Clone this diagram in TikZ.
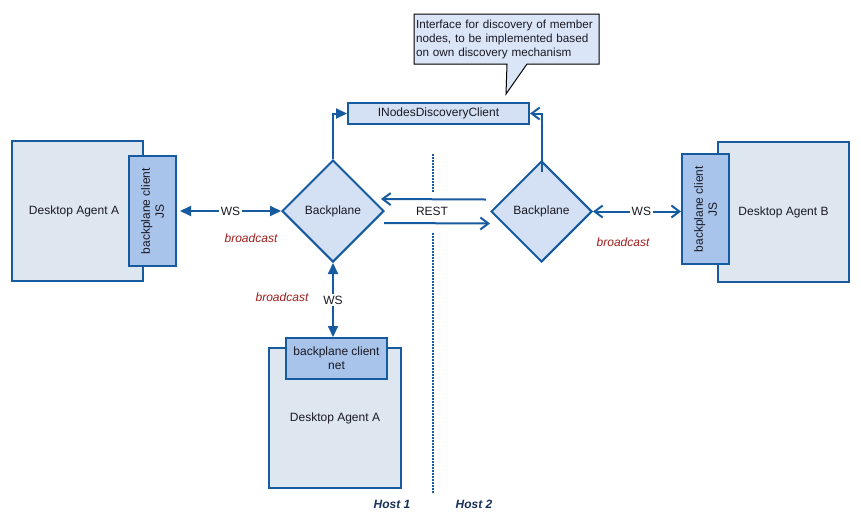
\documentclass[tikz,border=0pt]{standalone}
\usepackage{fontspec}
\setmainfont{Liberation Sans}
\usetikzlibrary{shapes.geometric,arrows.meta,calc}
\definecolor{bord}{RGB}{22,90,160}
\definecolor{agentfill}{RGB}{222,230,240}
\definecolor{clientfill}{RGB}{169,196,235}
\definecolor{dfill}{RGB}{212,225,245}
\definecolor{callfill}{RGB}{218,229,247}
\definecolor{bcast}{RGB}{160,30,30}
\definecolor{hostc}{RGB}{25,50,90}
\definecolor{txt}{RGB}{25,25,35}
\begin{document}
\begin{tikzpicture}[x=1pt,y=-1pt,
  lbl/.style={font=\fontsize{12}{14}\selectfont, text=txt},
  agent/.style={draw=bord, line width=2pt, fill=agentfill, inner sep=0pt, lbl},
  client/.style={draw=bord, line width=2pt, fill=clientfill, inner sep=0pt},
  bp/.style={diamond, draw=bord, line width=2pt, fill=dfill, inner sep=0pt, minimum width=102pt, minimum height=102pt, lbl},
  ifbox/.style={draw=bord, line width=2pt, fill=dfill, inner sep=0pt, minimum width=181pt, minimum height=21pt, lbl},
  conn/.style={draw=bord, line width=2pt},
  fullhead/.style={conn, {Triangle[length=11pt,width=10pt]}-{Triangle[length=11pt,width=10pt]}},
  fullend/.style={conn, -{Triangle[length=11pt,width=10pt]}},
  openhead/.style={conn, {Straight Barb[length=8pt,width=12pt]}-{Straight Barb[length=8pt,width=12pt]}},
  openend/.style={conn, -{Straight Barb[length=8pt,width=12pt]}},
  wslbl/.style={lbl, fill=white, inner sep=2pt},
  bclbl/.style={font=\fontsize{12}{14}\selectfont\itshape, text=bcast},
  hostlbl/.style={font=\fontsize{12}{14}\selectfont\bfseries\itshape, text=hostc},
  hostsep/.style={draw=bord, line width=2pt, dash pattern=on 1.5pt off 1.5pt},
  calltxt/.style={lbl, font=\fontsize{11.7}{14}\selectfont, align=left, text width=183pt, inner sep=0pt}
]
\useasboundingbox (0,0) rectangle (861,523);
\fill[white] (0,0) rectangle (861,523);

% left agent
\node[agent, minimum width=131pt, minimum height=140pt] (agA) at (77.5,211) {Desktop Agent A\hspace*{7pt}};
\node[client, minimum width=47pt, minimum height=110pt] (cjsA) at (152.5,211) {};
\node[lbl, rotate=90, align=center, inner sep=0pt] (cjsAt) at (cjsA.center) {backplane client\\JS};

% right agent
\node[agent, minimum width=131pt, minimum height=140pt] (agB) at (783.5,212) {Desktop Agent B};
\node[client, minimum width=47pt, minimum height=110pt] (cjsB) at (705.5,209) {};
\node[lbl, rotate=90, align=center, inner sep=0pt] (cjsBt) at (cjsB.center) {backplane client\\JS};

% bottom agent
\node[agent, minimum width=132pt, minimum height=140pt] (agC) at (335,418) {\raisebox{-3pt}{Desktop Agent A}};
\node[client, minimum width=101pt, minimum height=41pt, lbl, align=center] (cnet) at (336.5,358.5) {backplane client\\net};

% backplanes
\node[bp] (bpL) at (333,211) {Backplane};
\node[bp, minimum width=101pt, minimum height=101pt] (bpR) at (541.5,211.5) {Backplane};

% interface box
\node[ifbox] (ifc) at (438.5,113.5) {INodesDiscoveryClient};

% callout
\coordinate (c1) at (414,14);
\coordinate (c2) at (599,14);
\coordinate (c3) at (599,64);
\coordinate (c4) at (414,64);
\coordinate (pa) at (507,64);
\coordinate (ptip) at (506,94);
\coordinate (pb) at (527,64);
\filldraw[fill=callfill, draw=black, line width=1pt] (c1) -- (c2) -- (c3) -- (pb) -- (ptip) -- (pa) -- (c4) -- cycle;
\node[calltxt] (call) at (507.5,39.5) {Interface for discovery of member\\nodes, to be implemented based\\on own discovery mechanism};

% connectors to interface
\draw[fullend] (bpL.north) |- (ifc.west);
\draw[openend] ([yshift=-12pt]bpR.north) |- (ifc.east);

% WS left
\draw[fullhead] ([xshift=3pt]cjsA.east |- bpL.west) -- (bpL.west) node[wslbl, midway] (wsA) {WS};
\node[bclbl] (bcA) at (251,238) {broadcast};

% WS right
\draw[openhead] (bpR.east) -- (bpR.east -| cjsB.west) node[wslbl, pos=0.55] (wsB) {WS};
\node[bclbl] (bcB) at (623,242) {broadcast};

% WS bottom
\draw[fullhead] (bpL.south) -- (bpL.south |- cnet.north) node[wslbl, pos=0.5] (wsC) {WS};
\node[bclbl] (bcC) at (282,297) {broadcast};

% REST
\draw[openend] ([xshift=-4pt,yshift=12pt]bpR.west) -- ([xshift=-4pt,yshift=12pt]bpL.east);
\draw[openend] ([xshift=-1pt,yshift=-12pt]bpL.east) -- ([yshift=-12pt]bpR.west);
\node[lbl] (rest) at (432,211) {REST};

% host separator
\coordinate (s1) at (433,154);
\coordinate (s2) at (433,192);
\coordinate (s3) at (433,233);
\coordinate (s4) at (433,493);
\draw[hostsep] (s1) -- (s2);
\draw[hostsep] (s3) -- (s4);
\node[hostlbl] (h1) at (392,504) {Host 1};
\node[hostlbl] (h2) at (474,504) {Host 2};
\end{tikzpicture}
\end{document}
